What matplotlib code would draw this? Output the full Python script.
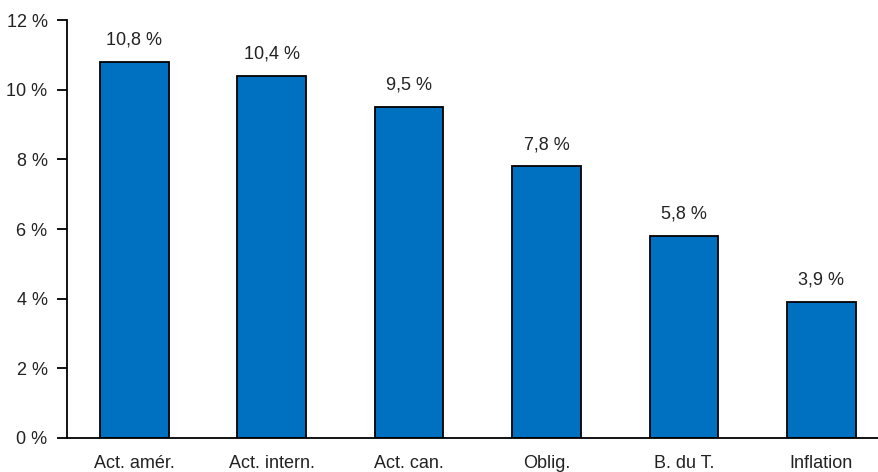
import matplotlib.pyplot as plt
from matplotlib import font_manager

# données
categories = ["Act. amér.", "Act. intern.", "Act. can.", "Oblig.", "B. du T.", "Inflation"]
values = [10.8, 10.4, 9.5, 7.8, 5.8, 3.9]
yticks = [0, 2, 4, 6, 8, 10, 12]

names = {f.name for f in font_manager.fontManager.ttflist}
family = "Liberation Sans Narrow" if "Liberation Sans Narrow" in names else "Liberation Sans"
plt.rcParams["font.family"] = [family, "DejaVu Sans"]

fig = plt.figure(figsize=(8.79, 4.72), dpi=100)
ax = fig.add_axes([67 / 879, 1 - 438 / 472, 1 - 67 / 879, (438 - 20) / 472])

x = range(len(categories))
bars = ax.bar(x, values, width=0.5, color="#0070C0", edgecolor="black", linewidth=1.3)

for xi, v in zip(x, values):
    ax.text(xi, v + 0.38, f"{v:.1f} %".replace(".", ","), ha="center", va="bottom",
            fontsize=13, color="#222222")

ax.set_xlim(-0.49, 5.42)
ax.set_ylim(0, 12)
ax.set_yticks(yticks)
ax.set_yticklabels([f"{t} %" for t in yticks], fontsize=13, color="#222222")
ax.set_xticks(list(x))
ax.set_xticklabels(categories, fontsize=13, color="#222222")
ax.tick_params(axis="x", length=0, pad=12)
ax.tick_params(axis="y", length=7, width=1.3, pad=7)

ax.spines["top"].set_visible(False)
ax.spines["right"].set_visible(False)
ax.spines["left"].set_linewidth(1.3)
ax.spines["bottom"].set_linewidth(1.3)

fig.savefig("out.png", dpi=100)
